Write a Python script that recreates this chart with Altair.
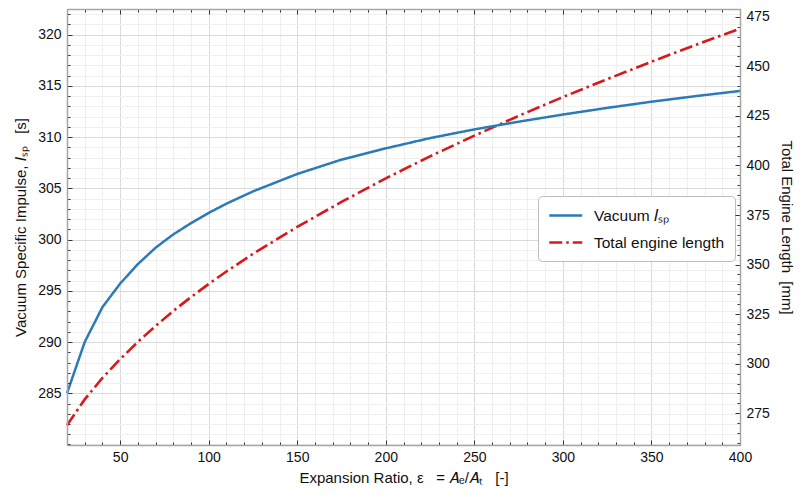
import altair as alt
import pandas as pd

# ---- data ----
eps = [20, 30, 40, 50, 60, 70, 80, 90, 100, 110, 125, 150, 175, 200, 225, 250,
       275, 300, 325, 350, 375, 400]
isp = [285.0, 290.0, 293.4, 295.7, 297.6, 299.2, 300.5, 301.6, 302.6, 303.5, 304.7,
       306.4, 307.8, 308.9, 309.9, 310.75, 311.5, 312.2, 312.85, 313.45, 314.0, 314.5]
length = [269.0, 282.0, 292.8, 302.3, 311.0, 319.0, 326.6, 333.6, 340.2, 346.5, 355.4,
          369.0, 381.6, 393.5, 404.6, 415.0, 425.0, 434.5, 443.5, 452.3, 460.8, 469.0]

series_names = ["Vacuum \U0001D43C\u209B\u209A", "Total engine length"]
series_colors = ["#2c7bb6", "#d7191c"]
series_dashes = [[1, 0], [13, 4, 2.5, 4]]

x_major = [50, 100, 150, 200, 250, 300, 350, 400]
x_minor = list(range(20, 401, 10))
isp_major = [285, 290, 295, 300, 305, 310, 315, 320]
isp_minor = list(range(280, 323))
len_major = [275, 300, 325, 350, 375, 400, 425, 450, 475]
len_minor = list(range(260, 479, 5))

NB = "\u00a0"
x_title = ("Expansion Ratio," + NB + "\u03b5" + NB * 3 + "=" + NB + "\U0001D434\u2091/\U0001D434\u209C"
           + NB * 3 + "[-]")
yl_title = "Vacuum Specific Impulse," + NB + "\U0001D43C\u209B\u209A" + NB * 3 + "[s]"
yr_title = "Total Engine Length" + NB * 2 + "[mm]"

W, H = 673, 436
XDOM = [20, 400]
YL = [279.95, 322.5]
YR = [259.0, 478.9]

FONT = "Liberation Sans"
TXT = "#111111"
TICK = "#333333"
SPINE = "#a6a6a6"
GMAJ = "#dadada"
GMIN = "#efefef"

df = pd.DataFrame({"eps": eps, "isp": isp, "length": length})
df["s_isp"] = series_names[0]
df["s_len"] = series_names[1]

TEXT = dict(labelFont=FONT, labelFontSize=14, labelColor=TXT,
            titleFont=FONT, titleFontSize=15, titleFontWeight="normal", titleColor=TXT)


def xenc(axis):
    return alt.X("eps:Q", scale=alt.Scale(domain=XDOM, nice=False, zero=False), axis=axis)


def ylenc(axis):
    return alt.Y("isp:Q", scale=alt.Scale(domain=YL, nice=False, zero=False), axis=axis)


def yrenc(axis):
    return alt.Y("length:Q", scale=alt.Scale(domain=YR, nice=False, zero=False), axis=axis)


def tick_axis(orient, offset, values, size, domain):
    return alt.Axis(orient=orient, offset=offset, values=values, ticks=True, tickSize=size,
                    tickColor=TICK, tickWidth=1, labels=False, grid=False, title=None,
                    domain=domain, domainColor=SPINE, domainWidth=1.5, zindex=1)


ghost = alt.Chart(df).mark_line(opacity=0)

# minor grid
g_minor = ghost.encode(
    x=xenc(alt.Axis(orient="bottom", values=x_minor, grid=True, gridColor=GMIN, gridWidth=1,
                    ticks=False, labels=False, domain=False, title=None)),
    y=ylenc(alt.Axis(orient="left", values=isp_minor, grid=True, gridColor=GMIN, gridWidth=1,
                     ticks=False, labels=False, domain=False, title=None)),
)

# major grid + labels + titles
g_major = ghost.encode(
    x=xenc(alt.Axis(orient="bottom", values=x_major, grid=True, gridColor=GMAJ, gridWidth=1,
                    ticks=False, domain=False, labelPadding=5, labelFlush=False,
                    labelOverlap=False, title=x_title, titlePadding=6, **TEXT)),
    y=ylenc(alt.Axis(orient="left", values=isp_major, grid=True, gridColor=GMAJ, gridWidth=1,
                     ticks=False, domain=False, labelPadding=6, labelOverlap=False,
                     title=yl_title, titlePadding=9, **TEXT)),
)

# inward ticks, bottom and left
t_bl_major = ghost.encode(
    x=xenc(tick_axis("top", -H, x_major, 5, True)),
    y=ylenc(tick_axis("right", -W, isp_major, 5, True)),
)
t_bl_minor = ghost.encode(
    x=xenc(tick_axis("top", -H, x_minor, 3, False)),
    y=ylenc(tick_axis("right", -W, isp_minor, 3, False)),
)
# inward ticks, top and right
t_tr_major = ghost.encode(
    x=xenc(tick_axis("bottom", -H, x_major, 5, True)),
    y=yrenc(tick_axis("left", -W, len_major, 5, True)),
)
t_tr_minor = ghost.encode(
    x=xenc(tick_axis("bottom", -H, x_minor, 3, False)),
    y=yrenc(tick_axis("left", -W, len_minor, 3, False)),
)

legend = alt.Legend(
    title=None, orient="none", legendX=471, legendY=187, direction="vertical",
    padding=10, fillColor="white", strokeColor="#bdbdbd", cornerRadius=4,
    symbolType="M-1,0H3", symbolSize=272, symbolStrokeWidth=2.5,
    labelFont=FONT, labelFontSize=15.5, labelColor=TXT, labelOffset=27,
    rowPadding=9,
)
color = lambda f: alt.Color(f + ":N", scale=alt.Scale(domain=series_names, range=series_colors),
                            legend=legend)
dash = lambda f: alt.StrokeDash(f + ":N", scale=alt.Scale(domain=series_names, range=series_dashes),
                                legend=legend)

red = alt.Chart(df).mark_line(strokeWidth=2.6).encode(
    x=xenc(None),
    y=yrenc(alt.Axis(orient="right", values=len_major, ticks=False, grid=False, domain=False,
                     labelPadding=6, labelOverlap=False, title=yr_title, titlePadding=9, **TEXT)),
    color=color("s_len"),
    strokeDash=dash("s_len"),
)
blue = alt.Chart(df).mark_line(strokeWidth=2.5).encode(
    x=xenc(None),
    y=ylenc(None),
    color=color("s_isp"),
    strokeDash=dash("s_isp"),
)

chart = alt.layer(
    g_minor, g_major, t_bl_minor, t_bl_major, t_tr_minor, t_tr_major, red, blue
).resolve_scale(
    x="independent", y="independent"
).properties(
    width=W, height=H,
    autosize=alt.AutoSizeParams(type="none"),
    padding={"left": 67, "top": 9, "right": 62, "bottom": 53},
).configure(
    background="white"
).configure_view(
    stroke=None
).configure_axis(**TEXT)

chart.save("out.html", embed_options={"renderer": "svg", "actions": False})
